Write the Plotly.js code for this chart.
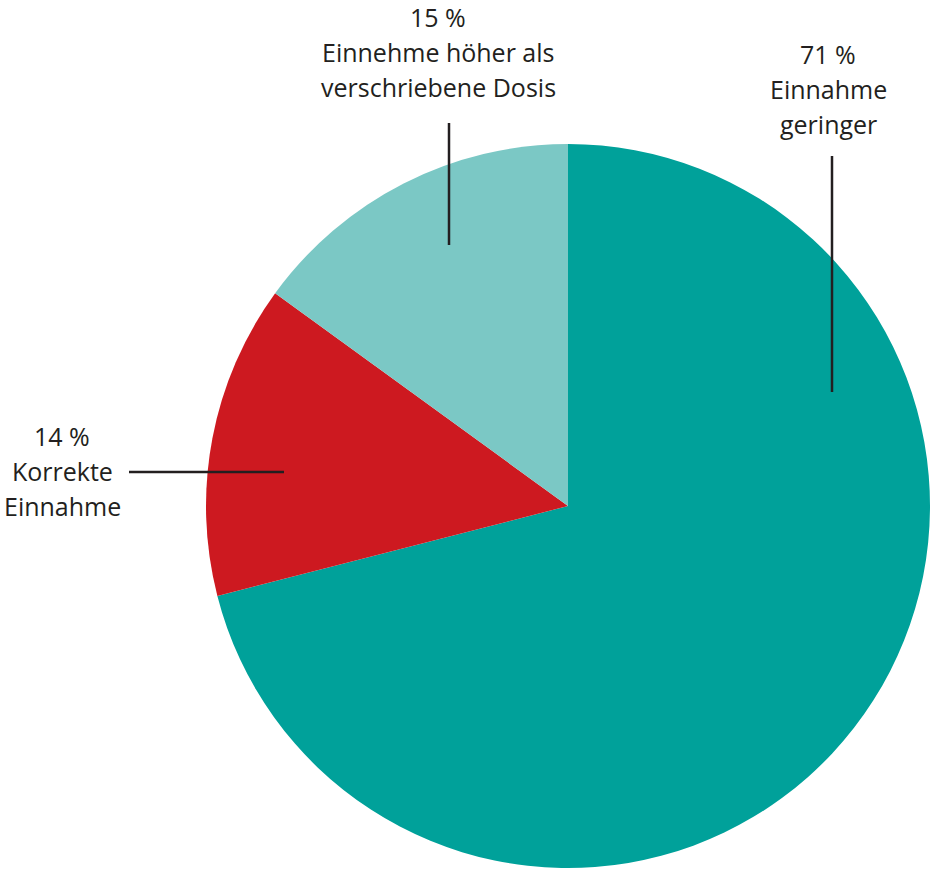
<!DOCTYPE html>
<html>
<head>
<meta charset="utf-8">
<script src="https://cdn.plot.ly/plotly-3.0.1.min.js"></script>
<style>html,body{margin:0;padding:0;background:#fff;}#chart{width:931px;height:870px;}</style>
</head>
<body>
<div id="chart"></div>
<script>
const categories = ["Einnahme geringer", "Korrekte Einnahme", "Einnehme höher als verschriebene Dosis"];
const values = [71, 14, 15];
const sliceColors = ["#00A19A", "#CD1920", "#7BC8C5"];
const labelLines = [
  ["71 %", "Einnahme", "geringer"],
  ["14 %", "Korrekte", "Einnahme"],
  ["15 %", "Einnehme höher als", "verschriebene Dosis"]
];

// label block placement (pixel coordinates of the page)
const labelPos = [
  {x: 828, y: [54, 89, 124]},
  {x: 62, y: [436, 471, 506]},
  {x: 438, y: [17, 52, 87]}
];
const leaderLines = [
  {x0: 832, y0: 156, x1: 832, y1: 392},
  {x0: 129, y0: 472, x1: 284, y1: 472},
  {x0: 449, y0: 123, x1: 449, y1: 245}
];

const W = 931, H = 870;
const annotations = [];
labelLines.forEach((lines, i) => {
  lines.forEach((t, j) => {
    annotations.push({
      xref: 'x', yref: 'y', x: labelPos[i].x, y: labelPos[i].y[j],
      text: t, showarrow: false, xanchor: 'center', yanchor: 'middle',
      font: {family: 'Open Sans, sans-serif', size: 25, color: '#231F20'}
    });
  });
});
const shapes = leaderLines.map(l => ({
  type: 'line', xref: 'x', yref: 'y', x0: l.x0, y0: l.y0, x1: l.x1, y1: l.y1,
  line: {color: '#231F20', width: 2.5}, layer: 'above'
}));

const cx = 568, cy = 506, r = 362;
const trace = {
  type: 'pie',
  labels: categories,
  values: values,
  marker: {colors: sliceColors, line: {width: 0}},
  sort: false,
  direction: 'clockwise',
  rotation: 0,
  textinfo: 'none',
  hoverinfo: 'none',
  showlegend: false,
  domain: {x: [(cx - r) / W, (cx + r) / W], y: [(H - cy - r) / H, (H - cy + r) / H]}
};

const layout = {
  width: W, height: H,
  margin: {l: 0, r: 0, t: 0, b: 0},
  paper_bgcolor: '#ffffff', plot_bgcolor: 'rgba(0,0,0,0)',
  xaxis: {range: [0, W], visible: false, fixedrange: true},
  yaxis: {range: [H, 0], visible: false, fixedrange: true},
  annotations: annotations,
  shapes: shapes,
  showlegend: false
};

Plotly.newPlot('chart', [trace], layout, {staticPlot: true, displayModeBar: false});
</script>
</body>
</html>
